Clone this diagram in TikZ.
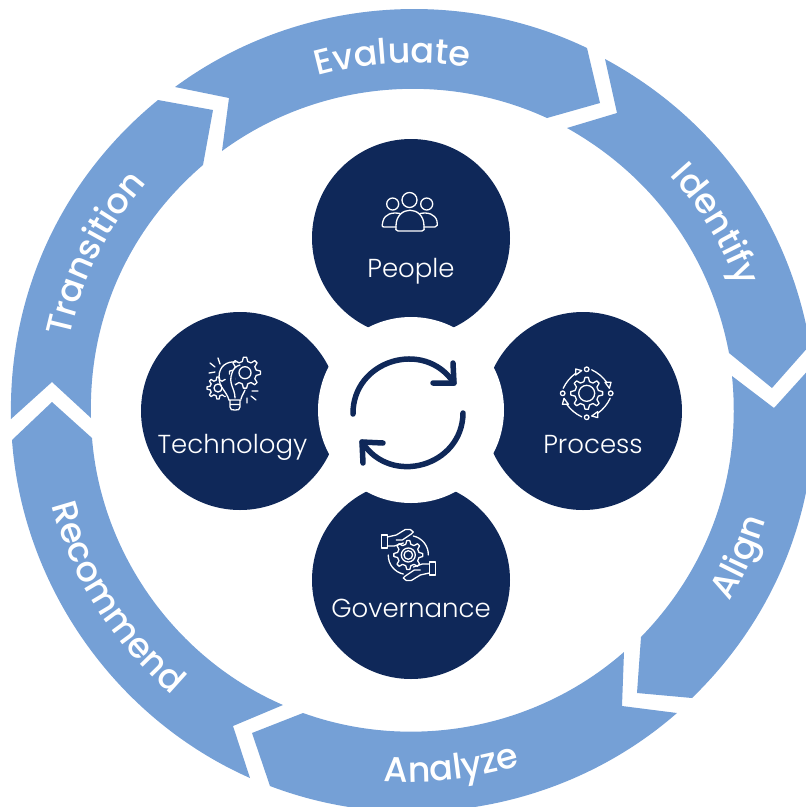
\documentclass[tikz,border=0pt]{standalone}
\usepackage{fontspec}
\setmainfont{Poppins}
\newfontfamily\ringfont{Poppins}[UprightFont=* Medium]
\newfontfamily\labfont{Poppins}[UprightFont=* Light]
\usetikzlibrary{decorations.text}
\definecolor{ringblue}{HTML}{75A0D6}
\definecolor{navy}{HTML}{0F2859}
\tikzset{
  seg/.style={fill=ringblue,draw=none},
  bigdisc/.style={circle,fill=navy,minimum size=198pt,inner sep=0pt,draw=none},
  hub/.style={circle,fill=white,minimum size=186pt,inner sep=0pt,draw=none},
  lab/.style={text=white,font=\labfont\fontsize{26}{30}\selectfont,inner sep=0pt,anchor=base},
  icon/.style={draw=white,line width=1.3pt,line join=round,line cap=round},
  cyc/.style={draw=navy,line width=5.5pt,line cap=round,line join=round},
  cw/.style={bend left=#1,looseness=.91},
  ccw/.style={bend right=#1,looseness=.91}
}
% text along the ring: radius, start and end angle (clockwise from the top), bend key, text
\newcommand{\ringtext}[5]{%
  \path[decorate,decoration={text along path,text align=center,
    text={|\ringfont\fontsize{35}{38}\selectfont\color{white}|#5}}]
    ({411+#1*sin(#2)},{411-#1*cos(#2)}) to[#4=45,looseness=1] ({411+#1*sin(#3)},{411-#1*cos(#3)});}
% gear centred on the current origin: inner radius, outer radius, teeth
\newcommand{\geartooth}[3]{%
  \draw[icon] ({#1*cos(-108/#3)},{#1*sin(-108/#3)})
    \foreach \ga in {1,...,#3}{
      -- ({#2*cos((\ga-1)*360/#3-48/#3)},{#2*sin((\ga-1)*360/#3-48/#3)})
      -- ({#2*cos((\ga-1)*360/#3+48/#3)},{#2*sin((\ga-1)*360/#3+48/#3)})
      -- ({#1*cos((\ga-1)*360/#3+108/#3)},{#1*sin((\ga-1)*360/#3+108/#3)})
      -- ({#1*cos(\ga*360/#3-108/#3)},{#1*sin(\ga*360/#3-108/#3)})
    } -- cycle;}
\begin{document}
\begin{tikzpicture}[x=1pt,y=-1pt]
\useasboundingbox (0,0) rectangle (806,807);
\clip (0,0) rectangle (806,807);
% ring
\path[seg] (175,87) to[cw=31] (587,48) -- (600,103) -- (547,118) to[ccw=30.5] (222,151) -- (229,98) -- cycle;
\path[seg] (605,59) to[cw=26] (810,345) -- (772,388) -- (729,353) to[ccw=25] (567,128) -- (617,113) -- cycle;
\path[seg] (812,366) to[cw=26] (692,698) -- (637,693) -- (641,637) to[ccw=25] (732,376) -- (774,408) -- cycle;
\path[seg] (677,713) to[cw=31] (270,786) -- (252,733) -- (303,713) to[ccw=30.5] (624,652) -- (622,706) -- cycle;
\path[seg] (250,778) to[cw=31] (12,440) -- (52,402) -- (92,438) to[ccw=31] (283,705) -- (233,726) -- cycle;
\path[seg] (11,419) to[cw=26] (158,100) -- (213,110) -- (203,165) to[ccw=25.5] (91,418) -- (52,382) -- cycle;
% ring labels
\ringtext{348}{-48}{42}{bend left}{Evaluate}
\ringtext{350}{13.5}{103.5}{bend left}{Identify}
\ringtext{371}{159}{69}{bend right}{Align}
\ringtext{371}{218.5}{128.5}{bend right}{Analyze}
\ringtext{371}{282.7}{192.7}{bend right}{Recommend}
\ringtext{349}{251.5}{341.5}{bend left}{Transition}
% discs
\node[bigdisc] (people) at (411,238) {};
\node[bigdisc] (process) at (583,411) {};
\node[bigdisc] (technology) at (240,411) {};
\node[bigdisc] (governance) at (411,580) {};
\node[hub] (hub) at (411,410) {};
% cycle arrows
\coordinate (a1) at (353,414); \coordinate (a2) at (454,383);
\coordinate (b1) at (463,413); \coordinate (b2) at (362,442);
\draw[cyc] (a1) to[bend left=73.5,looseness=1.3] (a2);
\draw[cyc] (453,363) -- (a2) -- (433,383);
\draw[cyc] (b1) to[bend left=73.5,looseness=1.3] (b2);
\draw[cyc] (383,443) -- (b2) -- (363,463);
% people icon
\draw[icon] (409.5,200) circle[radius=7.5];
\draw[icon] (392.7,204) circle[radius=6];
\draw[icon] (426.7,204) circle[radius=6];
\draw[icon] (398,231) .. controls (395,231) and (396,229) .. (396,226) .. controls (396,205) and (424,205) .. (424,226) .. controls (424,229) and (425,231) .. (422,231) -- cycle;
\draw[icon] (396,227) -- (384,227) .. controls (381,227) and (382.5,224) .. (383,221) .. controls (385,214) and (392,212) .. (400,213.5);
\draw[icon] (424,227) -- (435,227) .. controls (438,227) and (437.5,224) .. (437,221) .. controls (435,214) and (428,212) .. (420,213.5);
% technology icon
\begin{scope}[shift={(245,372.7)}]\geartooth{11.5}{15.5}{8}\draw[icon] (0,0) circle[radius=6];\end{scope}
\begin{scope}[shift={(218,388)}]\geartooth{8}{11}{8}\draw[icon] (0,0) circle[radius=4];\end{scope}
\draw[navy,fill=navy] (222,385) -- (232,372) -- (238,365) -- (232,398) -- (224,395) -- cycle;
\draw[icon] (229,400) .. controls (226,390) and (219,388) .. (219,377) .. controls (219,366) and (227,361) .. (236,362);
\draw[icon] (235,398) .. controls (235,388) and (228,384) .. (232,373) .. controls (233,369) and (236,366) .. (240,365);
\draw[icon] (241,399) .. controls (242,395) and (244,393) .. (245,390);
\draw[icon] (229,400) -- (241,400) (230,400) -- (230,407) .. controls (230,410) and (232,410) .. (235,410) .. controls (238,410) and (240,410) .. (240,407) -- (240,400) (230,404.5) -- (240,404.5);
\draw[icon] (210,363) -- (215,367) (218,358) -- (220,364) (209,373) -- (215,372);
\draw[icon] (252,391) -- (258,391) (251,396) -- (256,400) (247,398) -- (247,403);
% process icon
\begin{scope}[shift={(586.7,393.3)}]
\geartooth{12}{16}{8}
\draw[icon] (0,0) circle[radius=8];
\foreach \r in {0,90,180,270}{
 \begin{scope}[rotate=\r]
 \draw[icon] (0,-24) circle[radius=2.3];
 \coordinate (parc1) at (5,-23.5); \coordinate (parc2) at (20,-11);
 \draw[icon] (parc1) to[bend left=14,looseness=.9] (parc2);
 \draw[icon] (18.3,-11) -- (24.3,-11) -- (22.7,-5) -- cycle;
 \end{scope}}
\end{scope}
% governance icon
\begin{scope}[shift={(408.3,555)}]
\geartooth{11}{14.5}{8}
\draw[icon] (0,0) circle[radius=7];
\draw[icon] (0,0) circle[radius=4.3];
\foreach \r in {0,180}{
 \begin{scope}[rotate=\r]
 \draw[icon] (-27,-20) rectangle (-21,-7);
 \draw[icon] (-21,-18) -- (-12,-20) -- (-3,-25.5) -- (2,-25.5) -- (5,-23) -- (3,-21) -- (-6,-15) -- (-12,-15) (-21,-9) -- (-14,-9) -- (-5,-12);
 \coordinate (garc1) at (5,-19); \coordinate (garc2) at (20,0);
 \draw[icon] (garc1) to[bend left=40,looseness=.95] (garc2);
 \end{scope}}
\end{scope}
% disc labels
\node[lab] (tpeople) at (411,277) {People};
\node[lab] (tprocess) at (593,453) {Process};
\node[lab] (ttech) at (232.5,453) {Technology};
\node[lab] (tgov) at (411,617) {Governance};
\end{tikzpicture}
\end{document}
